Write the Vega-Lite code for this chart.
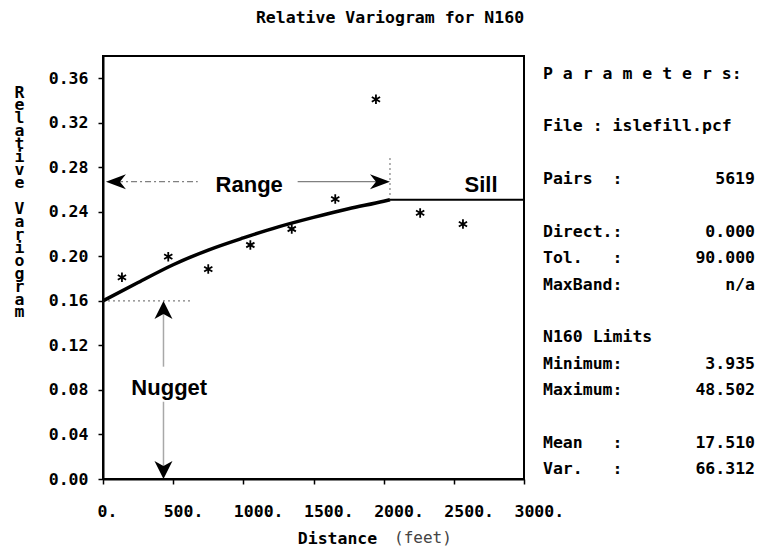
{
  "$schema": "https://vega.github.io/schema/vega-lite/v6.json",
  "autosize": {"type": "pad"},
  "padding": {"left": 12, "top": 8, "right": 2, "bottom": 2},
  "background": "white",
  "bounds": "flush",
  "spacing": 19,
  "config": {
    "font": "DejaVu Sans Mono",
    "view": {"stroke": "black", "strokeWidth": 2},
    "axis": {
      "grid": false,
      "domainColor": "black",
      "domainWidth": 2,
      "tickColor": "black",
      "tickWidth": 1.5,
      "tickSize": 5,
      "labelFont": "DejaVu Sans Mono",
      "labelFontWeight": "bold",
      "labelFontSize": 16.5,
      "labelColor": "black",
      "labelFlush": false,
      "labelOverlap": false,
      "titleFont": "DejaVu Sans Mono",
      "titleFontWeight": "bold",
      "titleFontSize": 16.5,
      "titleColor": "black"
    }
  },
  "datasets": {
    "lags": [
      {"dist": 135, "gamma": 0.1812},
      {"dist": 465, "gamma": 0.1997},
      {"dist": 750, "gamma": 0.1886},
      {"dist": 1050, "gamma": 0.2102},
      {"dist": 1345, "gamma": 0.2246},
      {"dist": 1655, "gamma": 0.2515},
      {"dist": 1945, "gamma": 0.3411},
      {"dist": 2260, "gamma": 0.2390},
      {"dist": 2565, "gamma": 0.2290}
    ],
    "model": [
      {"dist": 0, "gamma": 0.160, "part": "structure"},
      {"dist": 250, "gamma": 0.1765, "part": "structure"},
      {"dist": 500, "gamma": 0.1925, "part": "structure"},
      {"dist": 750, "gamma": 0.2057, "part": "structure"},
      {"dist": 1000, "gamma": 0.2166, "part": "structure"},
      {"dist": 1250, "gamma": 0.2265, "part": "structure"},
      {"dist": 1500, "gamma": 0.2350, "part": "structure"},
      {"dist": 1750, "gamma": 0.2428, "part": "structure"},
      {"dist": 2000, "gamma": 0.2495, "part": "structure"},
      {"dist": 2045, "gamma": 0.2509, "part": "structure"},
      {"dist": 2045, "gamma": 0.2509, "part": "sill"},
      {"dist": 3000, "gamma": 0.2509, "part": "sill"}
    ],
    "guides": [
      {"part": "range-left", "dist": 100, "dist2": 675, "gamma": 0.2671, "gamma2": 0.2671},
      {"part": "range-right", "dist": 1387, "dist2": 1950, "gamma": 0.2671, "gamma2": 0.2671},
      {"part": "nugget-upper", "dist": 431, "dist2": 431, "gamma": 0.150, "gamma2": 0.1009},
      {"part": "nugget-lower", "dist": 431, "dist2": 431, "gamma": 0.0694, "gamma2": 0.010},
      {"part": "nugget-level", "dist": 0, "dist2": 639, "gamma": 0.160, "gamma2": 0.160},
      {"part": "range-end", "dist": 2045, "dist2": 2045, "gamma": 0.2551, "gamma2": 0.2895}
    ],
    "arrows": [
      {"dir": "left", "dist": 21, "gamma": 0.2671},
      {"dir": "right", "dist": 2045, "gamma": 0.2671},
      {"dir": "up", "dist": 431, "gamma": 0.160},
      {"dir": "down", "dist": 431, "gamma": 0.0}
    ],
    "notes": [
      {"text": "Range", "dist": 1042, "gamma": 0.2641},
      {"text": "Nugget", "dist": 472, "gamma": 0.0815},
      {"text": "Sill", "dist": 2694, "gamma": 0.2641}
    ],
    "units": [
      {"text": "(feet)", "dist": 2280, "gamma": -0.053}
    ],
    "params": [
      {"line": 1, "label": "P a r a m e t e r s:", "value": ""},
      {"line": 3, "label": "File : islefill.pcf", "value": ""},
      {"line": 5, "label": "Pairs\u00a0\u00a0:", "value": "5619"},
      {"line": 7, "label": "Direct.:", "value": "0.000"},
      {"line": 8, "label": "Tol.\u00a0\u00a0\u00a0:", "value": "90.000"},
      {"line": 9, "label": "MaxBand:", "value": "n/a"},
      {"line": 11, "label": "N160 Limits", "value": ""},
      {"line": 12, "label": "Minimum:", "value": "3.935"},
      {"line": 13, "label": "Maximum:", "value": "48.502"},
      {"line": 15, "label": "Mean\u00a0\u00a0\u00a0:", "value": "17.510"},
      {"line": 16, "label": "Var.\u00a0\u00a0\u00a0:", "value": "66.312"}
    ]
  },
  "hconcat": [
    {
      "width": 421,
      "height": 423,
      "title": {
        "text": "Relative Variogram for N160",
        "anchor": "middle",
        "frame": "group",
        "dx": 76.5,
        "offset": 22,
        "baseline": "middle",
        "font": "DejaVu Sans Mono",
        "fontWeight": "bold",
        "fontSize": 16.5,
        "color": "black"
      },
      "encoding": {
        "x": {
          "field": "dist",
          "type": "quantitative",
          "scale": {"domain": [0, 3000], "nice": false, "zero": false},
          "axis": {
            "title": "Distance",
            "values": [0, 500, 1000, 1500, 2000, 2500, 3000],
            "labelExpr": "datum.value + '.'",
            "labelAlign": "left",
            "labelOffset": {"condition": {"test": "datum.value == 0", "value": -6}, "value": -10},
            "labelPadding": 19,
            "titleX": 234,
            "titleY": 59,
            "titleAlign": "center",
            "titleBaseline": "middle"
          }
        },
        "y": {
          "field": "gamma",
          "type": "quantitative",
          "scale": {"domain": [0, 0.38], "nice": false, "zero": false},
          "axis": {
            "title": ["R", "e", "l", "a", "t", "i", "v", "e", "\u2800", "V", "a", "r", "i", "o", "g", "r", "a", "m"],
            "titleAngle": 0,
            "titleX": -84,
            "titleY": 36,
            "titleAlign": "center",
            "titleBaseline": "middle",
            "titleLineHeight": 12.94,
            "values": [0, 0.04, 0.08, 0.12, 0.16, 0.2, 0.24, 0.28, 0.32, 0.36],
            "format": ".2f",
            "labelPadding": 10
          }
        }
      },
      "layer": [
        {
          "data": {"name": "guides"},
          "transform": [{"filter": "datum.part === 'range-left'"}],
          "mark": {"type": "rule", "color": "#808080", "strokeWidth": 1.2, "strokeDash": [6, 3, 2, 3]},
          "encoding": {"x2": {"field": "dist2"}, "y2": {"field": "gamma2"}}
        },
        {
          "data": {"name": "guides"},
          "transform": [{"filter": "datum.part === 'range-right'"}],
          "mark": {"type": "rule", "color": "#808080", "strokeWidth": 1.2},
          "encoding": {"x2": {"field": "dist2"}, "y2": {"field": "gamma2"}}
        },
        {
          "data": {"name": "guides"},
          "transform": [{"filter": "datum.part === 'nugget-upper' || datum.part === 'nugget-lower'"}],
          "mark": {"type": "rule", "color": "#a8a8a8", "strokeWidth": 1.5},
          "encoding": {"x2": {"field": "dist2"}, "y2": {"field": "gamma2"}}
        },
        {
          "data": {"name": "guides"},
          "transform": [{"filter": "datum.part === 'nugget-level' || datum.part === 'range-end'"}],
          "mark": {"type": "rule", "color": "#808080", "strokeWidth": 1.2, "strokeDash": [2, 3]},
          "encoding": {"x2": {"field": "dist2"}, "y2": {"field": "gamma2"}}
        },
        {
          "data": {"name": "model"},
          "transform": [{"filter": "datum.part === 'structure'"}],
          "mark": {"type": "line", "color": "black", "strokeWidth": 3.5, "interpolate": "monotone"},
          "encoding": {}
        },
        {
          "data": {"name": "model"},
          "transform": [{"filter": "datum.part === 'sill'"}],
          "mark": {"type": "line", "color": "black", "strokeWidth": 2},
          "encoding": {}
        },
        {
          "data": {"name": "lags"},
          "mark": {"type": "point", "filled": false, "color": "black", "opacity": 1, "strokeWidth": 1.8, "size": 90,
                   "shape": "M0,-1L0,1M-0.87,-0.5L0.87,0.5M-0.87,0.5L0.87,-0.5"},
          "encoding": {}
        },
        {
          "data": {"name": "arrows"},
          "mark": {"type": "point", "filled": true, "color": "black", "size": 400, "opacity": 1},
          "encoding": {
            "shape": {
              "field": "dir",
              "type": "nominal",
              "scale": {
                "domain": ["left", "right", "up", "down"],
                "range": [
                  "M0,0L2,-0.75L1.4,0L2,0.75Z",
                  "M0,0L-2,-0.75L-1.4,0L-2,0.75Z",
                  "M0,0L-0.9,1.8L0,1.3L0.9,1.8Z",
                  "M0,0L-0.9,-1.8L0,-1.3L0.9,-1.8Z"
                ]
              },
              "legend": null
            }
          }
        },
        {
          "data": {"name": "notes"},
          "mark": {"type": "text", "font": "Liberation Sans", "fontWeight": "bold", "fontSize": 22, "color": "black", "align": "center", "baseline": "middle"},
          "encoding": {"text": {"field": "text"}}
        },
        {
          "data": {"name": "units"},
          "mark": {"type": "text", "font": "DejaVu Sans Mono", "fontSize": 16, "color": "#444444", "align": "center", "baseline": "middle"},
          "encoding": {"text": {"field": "text"}}
        }
      ]
    },
    {
      "width": 212,
      "height": 423,
      "view": {"stroke": null},
      "data": {"name": "params"},
      "encoding": {
        "y": {
          "field": "line",
          "type": "quantitative",
          "scale": {"domain": [0.333, 16.368], "reverse": true, "nice": false, "zero": false},
          "axis": null
        }
      },
      "layer": [
        {
          "mark": {"type": "text", "align": "left", "baseline": "middle", "font": "DejaVu Sans Mono", "fontWeight": "bold", "fontSize": 16.5, "color": "black"},
          "encoding": {
            "x": {"datum": 0, "type": "quantitative", "scale": {"domain": [0, 1], "nice": false}, "axis": null},
            "text": {"field": "label"}
          }
        },
        {
          "mark": {"type": "text", "align": "right", "baseline": "middle", "font": "DejaVu Sans Mono", "fontWeight": "bold", "fontSize": 16.5, "color": "black"},
          "encoding": {
            "x": {"datum": 1, "type": "quantitative", "scale": {"domain": [0, 1], "nice": false}, "axis": null},
            "text": {"field": "value"}
          }
        }
      ]
    }
  ]
}
